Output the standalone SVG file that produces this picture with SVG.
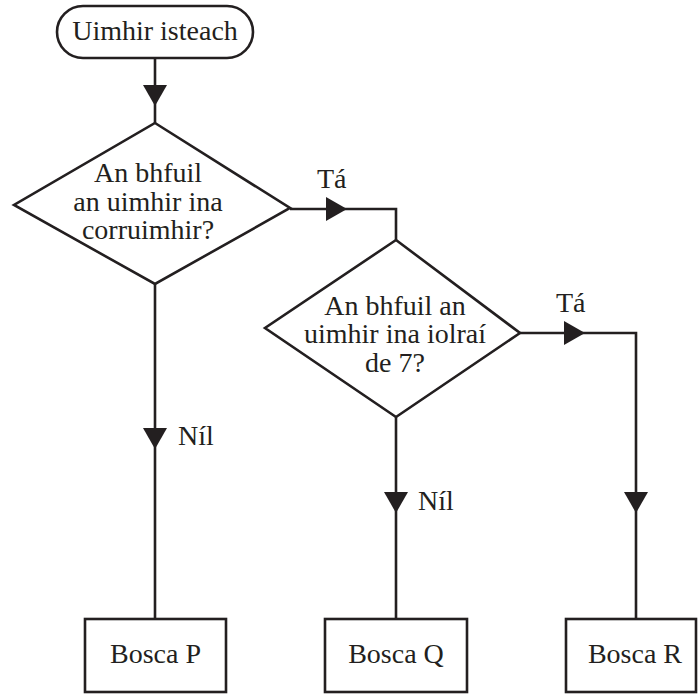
<svg xmlns="http://www.w3.org/2000/svg" width="698" height="695" viewBox="0 0 698 695">
<style>
.s{fill:#fff;stroke:#231f20;stroke-width:2.6}
.c{fill:none;stroke:#231f20;stroke-width:2.6}
.t{font-family:"Liberation Serif","Times New Roman",serif;font-size:28px;fill:#231f20;text-anchor:middle}
.l{font-family:"Liberation Serif","Times New Roman",serif;font-size:28px;fill:#231f20}
</style>
<defs>
<path id="ah" d="M0,0 L-12,-21 L12,-21 Z" fill="#231f20"/>
</defs>
<g id="connectors">
<path class="c" d="M155,59 V123"/>
<path class="c" d="M290,209 H396 V240"/>
<path class="c" d="M155,284 V619"/>
<path class="c" d="M520,333 H636 V619"/>
<path class="c" d="M396,417 V619"/>
<use href="#ah" transform="translate(155,106)"/>
<use href="#ah" transform="translate(347,209) rotate(-90)"/>
<use href="#ah" transform="translate(155,449)"/>
<use href="#ah" transform="translate(585,333) rotate(-90)"/>
<use href="#ah" transform="translate(396,513)"/>
<use href="#ah" transform="translate(636,513)"/>
<text class="l" x="317" y="188">Tá</text>
<text class="l" x="556" y="312">Tá</text>
<text class="l" x="178" y="445">Níl</text>
<text class="l" x="418" y="510">Níl</text>
</g>
<g id="start">
<rect class="s" x="57" y="6" width="196" height="52" rx="26"/>
<text class="t" x="155" y="40">Uimhir isteach</text>
</g>
<g id="decision1">
<polygon class="s" points="155,123 290,208 155,284 14,205"/>
<text class="t" y="182"><tspan x="148">An bhfuil</tspan><tspan x="148" dy="28.5">an uimhir ina</tspan><tspan x="148" dy="28.5">corruimhir?</tspan></text>
</g>
<g id="decision2">
<polygon class="s" points="396,240 520,333 396,417 265,328"/>
<text class="t" y="315"><tspan x="395">An bhfuil an</tspan><tspan x="395" dy="28">uimhir ina iolraí</tspan><tspan x="395" dy="29">de 7?</tspan></text>
</g>
<g id="boxP">
<rect class="s" x="85" y="619" width="141" height="73"/>
<text class="t" x="155.5" y="663">Bosca P</text>
</g>
<g id="boxQ">
<rect class="s" x="325" y="619" width="142" height="73"/>
<text class="t" x="396" y="663">Bosca Q</text>
</g>
<g id="boxR">
<rect class="s" x="566" y="619" width="130" height="73"/>
<text class="t" x="635" y="663">Bosca R</text>
</g>
</svg>
